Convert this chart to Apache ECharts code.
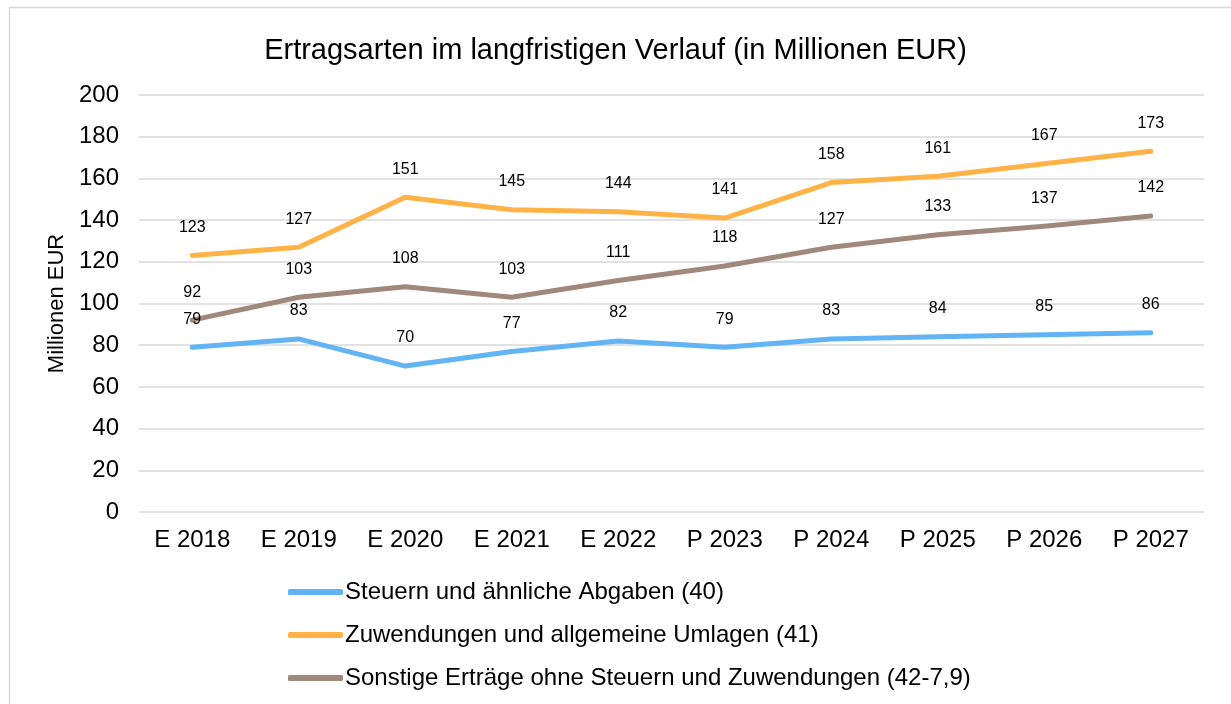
<!DOCTYPE html>
<html>
<head>
<meta charset="utf-8">
<script src="https://cdn.jsdelivr.net/npm/echarts@6/dist/echarts.min.js"></script>
<style>
    html, body { margin: 0; padding: 0; background: #fff; }
    #chart { width: 1231px; height: 704px; }
</style>
</head>
<body>
<div id="chart"></div>
<script>
var categories = ['E 2018', 'E 2019', 'E 2020', 'E 2021', 'E 2022', 'P 2023', 'P 2024', 'P 2025', 'P 2026', 'P 2027'];
var steuern = [79, 83, 70, 77, 82, 79, 83, 84, 85, 86];
var zuwendungen = [123, 127, 151, 145, 144, 141, 158, 161, 167, 173];
var sonstige = [92, 103, 108, 103, 111, 118, 127, 133, 137, 142];
var seriesNames = [
    'Steuern und ähnliche Abgaben (40)',
    'Zuwendungen und allgemeine Umlagen (41)',
    'Sonstige Erträge ohne Steuern und Zuwendungen (42-7,9)'
];
var colors = ['#63b4f4', '#ffb347', '#a1887d'];

var font = 'Liberation Sans, Arial, sans-serif';

function makeSeries(name, data, color){
    // tiny dot in line colour so the labels get drawn, hidden under the line
    return {
        name: name,
        type: 'line',
        data: data,
        symbol: 'circle',
        symbolSize: 2,
        showSymbol: true,
        lineStyle: { width: 5, color: color, cap: 'round', join: 'round' },
        itemStyle: { color: color },
        label: {
            show: true,
            position: 'top',
            distance: 19,
            color: '#000',
            fontFamily: font,
            fontSize: 16
        },
        labelLayout: { hideOverlap: false },
        emphasis: { disabled: true }
    };
}

var myChart = echarts.init(document.getElementById('chart'));
var option = {
    animation: false,
    color: colors,
    graphic: [{
        type: 'rect',
        shape: { x: 9.5, y: 7.5, width: 1240, height: 720 },
        style: { fill: 'none', stroke: '#d9d9d9', lineWidth: 1.5 },
        silent: true
    }],
    title: {
        text: 'Ertragsarten im langfristigen Verlauf (in Millionen EUR)',
        left: 'center',
        top: 31,
        textStyle: { fontFamily: font, fontSize: 29, fontWeight: 'normal', color: '#000' }
    },
    grid: { left: 139, right: 27, top: 95, bottom: 192 },
    legend: {
        orient: 'vertical',
        left: 283,
        top: 575,
        itemWidth: 55,
        itemHeight: 6,
        itemGap: 19,
        icon: 'roundRect',
        data: seriesNames,
        textStyle: { fontFamily: font, fontSize: 24, color: '#000', padding: [0, 0, 0, -3] }
    },
    xAxis: {
        type: 'category',
        data: categories,
        boundaryGap: true,
        axisLine: { show: false },
        axisTick: { show: false },
        axisLabel: { fontFamily: font, fontSize: 24, color: '#000', margin: 16 }
    },
    yAxis: {
        type: 'value',
        min: 0,
        max: 200,
        interval: 20,
        name: 'Millionen EUR',
        nameLocation: 'middle',
        nameGap: 70,
        nameTextStyle: { fontFamily: font, fontSize: 22, color: '#000' },
        axisLine: { show: false },
        axisTick: { show: false },
        axisLabel: { fontFamily: font, fontSize: 24, color: '#000', margin: 20 },
        splitLine: { lineStyle: { color: '#d9d9d9', width: 1.5 } }
    },
    series: [
        makeSeries(seriesNames[0], steuern, colors[0]),
        makeSeries(seriesNames[1], zuwendungen, colors[1]),
        makeSeries(seriesNames[2], sonstige, colors[2])
    ]
};
myChart.setOption(option);
</script>
</body>
</html>
